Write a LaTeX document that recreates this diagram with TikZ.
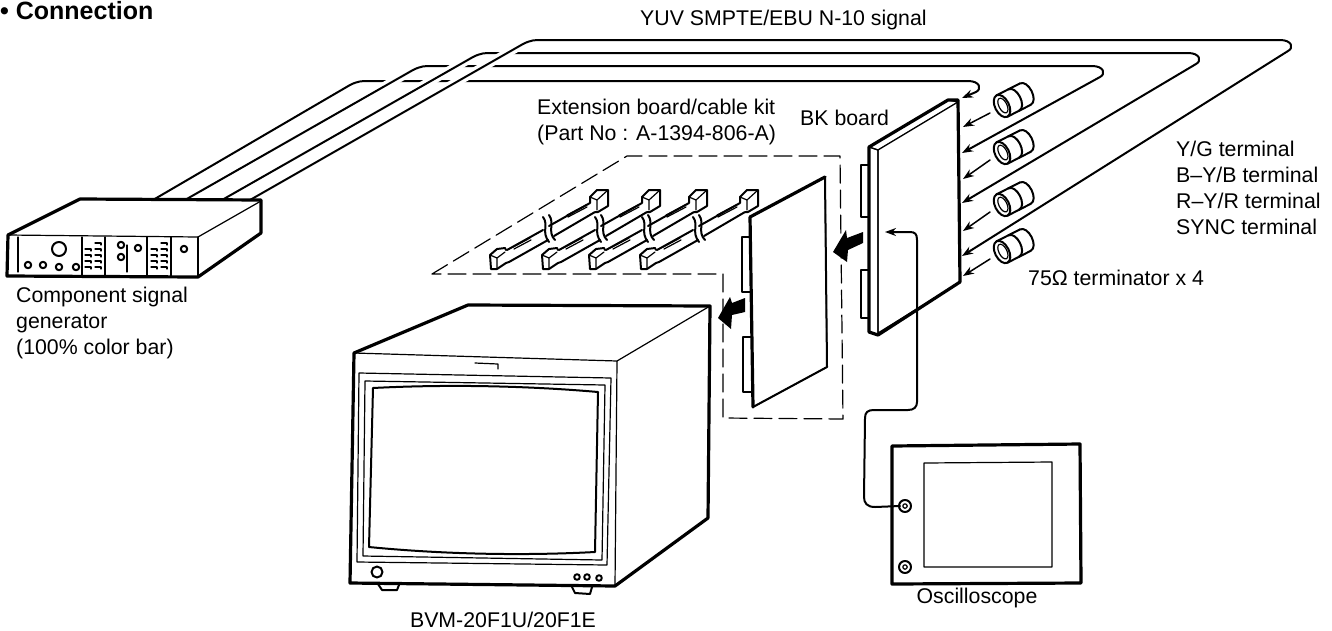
\documentclass[tikz,border=0pt]{standalone}
\usepackage{fontspec}
\usetikzlibrary{arrows.meta}
\setmainfont{Liberation Sans}
\begin{document}
\begin{tikzpicture}[x=1pt,y=-1pt,>={Stealth[length=11pt,width=8pt]},line cap=round,line join=round,
 thin line/.style={line width=1.2pt},
 mid line/.style={line width=2pt},
 heavy line/.style={line width=3.2pt},
 cable/.style={mid line,->,preaction={draw=white,line width=9pt,-}},
 feed/.style={line width=1.5pt,->},
 block arrow/.style={fill=black,draw=none},
 lab/.style={font=\fontsize{21.3}{26}\selectfont,inner sep=0pt,anchor=west,align=left}]
\useasboundingbox (0,0) rectangle (1332,630);
% signal cables
\foreach \n/\s/\bx/\hy/\ex/\tip in {1/153/350/81/968/98,2/185/413/66/1092/153,3/222/473/53/1188/203,4/250/523/40/1280/256}{
 \coordinate (gen\n) at (\s,200); \coordinate (sig\n) at (962,\tip);
 \draw[cable] (gen\n)--(\bx,\hy+4) .. controls (\bx+8,\hy) and (\bx+12,\hy) .. (\bx+18,\hy)--(\ex,\hy) .. controls (\ex+12,\hy) and (\ex+14,\hy+8) .. (\ex+8,\hy+11)--(sig\n);}
% generator
\draw[thin line,fill=white] (8,235)--(198,237)--(261,201) (198,237)--(198,277);
\draw[heavy line] (8,235)--(80,199)--(261,200)--(261,233)--(198,277)--(7,276)--cycle;
\foreach \x in {82,105,147,171,198} \draw[thin line] (\x,237)--(\x,276);
\draw[thin line] (18,237)--(18,272) (127,245)--(127,272);
\draw[mid line] (59,249) circle(7);
\foreach \x/\y in {28/265,43/265,59/267,76/267,121/245,121/257,138/248,184/249} \draw[mid line] (\x,\y) circle(3.2);
\foreach \x in {85,95,151,161} \foreach \y in {249,255,261,267} \draw[thin line] (\x,\y)--(\x+6,\y)--(\x+6,\y+2);
\foreach \x in {95,161} \draw[thin line] (\x,243)--(\x+6,243)--(\x+6,245);
% monitor
\draw[heavy line,fill=white] (354,353)--(468,305)--(710,306)--(708,518)--(615,586)--(350,583)--cycle;
\draw[thin line] (354,353)--(617,361)--(710,306) (617,361)--(615,586);
\draw[thin line] (359,373)--(611,378)--(607,565)--(357,562)--cycle;
\draw[thin line] (365,381)--(605,385)--(602,560)--(363,556)--cycle;
\draw[mid line] (373,388) .. controls (450,384) and (530,386) .. (598,392)--(595,552) .. controls (520,556) and (440,554) .. (369,547)--cycle;
\draw[thin line] (475,363)--(498,364)--(498,369);
\draw[mid line] (377,572) circle(5.5);
\foreach \x/\y in {577/577,587/577,599/578} \draw[mid line] (\x,\y) circle(2.8);
\draw[mid line] (378,584)--(382,590)--(397,590)--(399,585) (572,587)--(575,593)--(590,594)--(592,587);
% kit outline and flat cables
\draw[thin line,dash pattern=on 18pt off 7pt] (432,274)--(627,156)--(840,156)--(843,419)--(723,418)--(723,274)--cycle;
\foreach \d in {0,52,99,150}{
 \begin{scope}[shift={(\d,0)}]
 \draw[mid line] (507,250)--(543,230) (509,262)--(548,240) (549,226)--(590,203) (554,236)--(595,212);
 \draw[thin line] (513,247)--(530,238) (514,249)--(531,240) (567,215)--(586,205) (568,217)--(587,207);
 \draw[mid line] (543,217) .. controls (549,225) and (541,232) .. (549,242) (549,215) .. controls (555,223) and (547,232) .. (555,240);
 \draw[mid line,fill=white] (506,250)--(505,248)--(497,249)--(490,255)--(491,269)--(497,269)--(506,263)--(509,262);
 \draw[thin line] (490,255)--(497,258)--(505,252) (497,258)--(497,268);
 \draw[mid line,fill=white] (590,203)--(590,197)--(597,190)--(608,190)--(608,206)--(598,212)--(595,212);
 \draw[thin line] (590,197)--(597,200)--(608,190) (597,200)--(597,210);
 \end{scope}}
% extension board
\draw[mid line,fill=white] (750,237)--(742,237)--(742,292)--(750,292) (751,337)--(743,337)--(743,392)--(751,392);
\draw[thin line,fill=white] (750,217)--(825,177)--(827,367)--(753,407)--cycle;
\draw[heavy line] (750,217)--(825,177) (750,217)--(753,407);
\draw[mid line] (825,177)--(827,367)--(753,407);
% BK board
\draw[mid line,fill=white] (869,165)--(861,165)--(861,217)--(869,217) (869,270)--(861,270)--(861,318)--(869,318);
\draw[thin line,fill=white] (869,147)--(948,100)--(958,102)--(878,150)--cycle;
\draw[thin line,fill=white] (878,150)--(958,102)--(960,282)--(878,333)--cycle;
\draw[thin line] (869,147)--(878,150)--(878,333);
\draw[heavy line] (869,147)--(948,100)--(958,100)--(960,282)--(878,335)--(869,332)--cycle;
% block arrows
\fill[block arrow] (833,252)--(846,230)--(847,238)--(863,232)--(863,243)--(848,250)--(847,262)--cycle;
\fill[block arrow] (718,318)--(730,297)--(732,303)--(745,298)--(745,312)--(732,315)--(731,329)--cycle;
% terminators
\foreach \n/\y/\tip in {1/106/127,2/153/179,3/205/231,4/252/276}{
 \coordinate (term\n) at (990,\y+7); \coordinate (bk\n) at (963,\tip);
 \begin{scope}[shift={(1002,\y)},rotate=27]
 \draw[mid line] (0,-12)--(26,-12) (0,12)--(26,12);
 \foreach \s in {13,26} \draw[mid line] (\s,12) .. controls (\s+9.5,12) and (\s+9.5,-12) .. (\s,-12);
 \draw[mid line,fill=white] (0,0) ellipse[x radius=7,y radius=12];
 \draw[thin line] (1,0) ellipse[x radius=4,y radius=8];
 \end{scope}
 \draw[feed] (term\n)--(bk\n);}
% scope and its lead
\draw[heavy line] (892,446)--(1080,444)--(1081,583)--(892,584)--cycle;
\draw[thin line] (924,463)--(1052,462)--(1052,567)--(924,567)--cycle;
\foreach \y in {506,567}{\draw[mid line] (905,\y) circle(6); \draw[thin line] (905,\y) circle(2.2);}
\coordinate (probe) at (900,506); \coordinate (bkin) at (885,232);
\draw[mid line,->] (probe)--(875,507) .. controls (867,507) and (864,503) .. (864,497)--(865,418) .. controls (865,412) and (868,410) .. (874,410)--(908,410) .. controls (914,410) and (917,407) .. (917,402)--(917,240) .. controls (917,234) and (915,232) .. (910,232)--(bkin);
% labels
\node[lab,font=\fontsize{25}{26}\selectfont\bfseries,anchor=base west] (title) at (0,19) {• Connection};
\node[lab] (siglab) at (640,20) {YUV SMPTE/EBU N-10 signal};
\node[lab] (kitlab) at (537,122) {Extension board/cable kit\\(Part No : A-1394-806-A)};
\node[lab] (bklab) at (800,118) {BK board};
\node[lab] (termlab) at (1176,188) {Y/G terminal\\B–Y/B terminal\\R–Y/R terminal\\SYNC terminal};
\node[lab] (ohmlab) at (1028,278) {75Ω terminator x 4};
\node[lab] (genlab) at (16,323) {Component signal\\generator\\(100\% color bar)};
\node[lab,anchor=center] (monlab) at (503,620) {BVM-20F1U/20F1E};
\node[lab,anchor=center] (scolab) at (977,598) {Oscilloscope};
\end{tikzpicture}
\end{document}
